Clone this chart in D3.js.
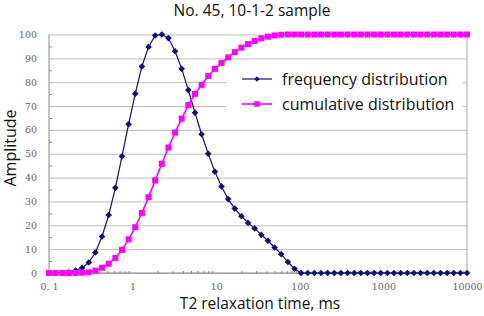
<!DOCTYPE html>
<html>
<head>
<meta charset="utf-8">
<script src="https://cdn.jsdelivr.net/npm/d3@7"></script>
<style>
  body { margin: 0; background: #fff; }
  svg { display: block; }
</style>
</head>
<body>
<div id="chart"></div>
<script>
// T2 relaxation times (ms), 64 points log-spaced 0.1 .. 10000
const t2Times = [
  0.1, 0.120, 0.144, 0.173, 0.208, 0.249, 0.299, 0.359, 0.431, 0.518,
  0.622, 0.746, 0.896, 1.076, 1.292, 1.551, 1.861, 2.235, 2.683, 3.221,
  3.866, 4.642, 5.572, 6.690, 8.031, 9.641, 11.57, 13.90, 16.68, 20.03,
  24.04, 28.86, 34.65, 41.60, 49.94, 59.95, 71.97, 86.40, 103.7, 124.5,
  149.5, 179.5, 215.4, 258.6, 310.5, 372.8, 447.5, 537.2, 645.0, 774.3,
  929.6, 1116, 1340, 1608, 1931, 2318, 2783, 3341, 4010, 4814,
  5780, 6939, 8330, 10000
];
const frequency = [
  0, 0, 0, 0.3, 1.0, 2.2, 4.4, 8.6, 15.3, 24.3,
  35.7, 48.9, 62.4, 75.2, 86.6, 94.8, 99.6, 100, 98.5, 93.0,
  85.6, 76.7, 67.2, 58.2, 50.0, 42.5, 36.3, 31.0, 27.0, 23.8,
  21.0, 18.7, 16.0, 13.5, 10.7, 7.9, 4.6, 1.8, 0, 0,
  0, 0, 0, 0, 0, 0, 0, 0, 0, 0,
  0, 0, 0, 0, 0, 0, 0, 0, 0, 0,
  0, 0, 0, 0
];
const cumulative = [
  0, 0, 0, 0, 0, 0.1, 0.3, 1.0, 2.2, 3.9,
  6.3, 9.7, 14.1, 19.2, 25.2, 31.8, 38.8, 45.8, 52.6, 58.9,
  64.7, 70.4, 75.1, 78.9, 82.6, 85.6, 88.1, 90.4, 92.6, 94.5,
  96.0, 97.3, 98.4, 99.1, 99.6, 99.9, 100, 100, 100, 100,
  100, 100, 100, 100, 100, 100, 100, 100, 100, 100,
  100, 100, 100, 100, 100, 100, 100, 100, 100, 100,
  100, 100, 100, 100
];
const xTicks = [0.1, 1, 10, 100, 1000, 10000];
const xTickLabels = ["0. 1", "1", "10", "100", "1000", "10000"];
const yTicks = [0, 10, 20, 30, 40, 50, 60, 70, 80, 90, 100];
const seriesNames = ["frequency distribution", "cumulative distribution"];
const chartTitle = "No. 45, 10-1-2 sample";
const xTitle = "T2 relaxation time, ms";
const yTitle = "Amplitude";

const width = 484, height = 316;
const margin = {top: 34.5, right: 17, bottom: 43, left: 49};
const blue = "#10107e", pink = "#ff00ff";

const svg = d3.select("#chart")
    .append("svg")
    .attr("width", width)
    .attr("height", height);

const x = d3.scaleLog()
    .domain([0.1, 10000])
    .range([margin.left, width - margin.right]);
const y = d3.scaleLinear()
    .domain([0, 100])
    .range([height - margin.bottom, margin.top]);

// gridlines
svg.append("g")
    .attr("transform", `translate(${margin.left},0)`)
    .call(d3.axisLeft(y).tickValues(yTicks).tickSize(-(width - margin.left - margin.right)).tickFormat(""))
    .call(g => g.select(".domain").remove())
    .call(g => g.selectAll("line").attr("stroke", "#bdbdbd").attr("stroke-width", 1));

// y minor ticks (inside)
svg.append("g")
    .attr("transform", `translate(${margin.left},0)`)
    .call(d3.axisRight(y).tickValues(d3.range(5, 100, 10)).tickSize(3).tickFormat(""))
    .call(g => g.select(".domain").remove())
    .call(g => g.selectAll("line").attr("stroke", "#888"));

// x minor ticks (inside, log)
const minor = [];
xTicks.slice(0, -1).forEach(d => { for (let k = 2; k < 10; k++) minor.push(d * k); });
svg.append("g")
    .attr("transform", `translate(0,${y(0)})`)
    .call(d3.axisTop(x).tickValues(minor).tickSize(2).tickFormat(""))
    .call(g => g.select(".domain").remove())
    .call(g => g.selectAll("line").attr("stroke", "#888"));

// axis frame lines
svg.append("line")
    .attr("x1", x(0.1)).attr("x2", x(10000))
    .attr("y1", y(0)).attr("y2", y(0))
    .attr("stroke", "#888");
svg.append("line")
    .attr("x1", x(0.1)).attr("x2", x(0.1))
    .attr("y1", y(0)).attr("y2", y(100))
    .attr("stroke", "#888");
svg.append("line")
    .attr("x1", x(10000)).attr("x2", x(10000))
    .attr("y1", y(0)).attr("y2", y(100))
    .attr("stroke", "#aaa");

// tick labels
svg.append("g")
    .attr("transform", `translate(${margin.left - 9},0)`)
    .call(d3.axisLeft(y).tickValues(yTicks).tickSize(0))
    .call(g => g.select(".domain").remove())
    .call(g => g.selectAll("text")
        .attr("fill", "#666")
        .attr("font-family", "'DejaVu Serif', serif")
        .attr("font-size", "9.5px"));

svg.append("g")
    .attr("transform", `translate(0,${y(0) + 7})`)
    .call(d3.axisBottom(x).tickValues(xTicks).tickSize(0).tickFormat((d, i) => xTickLabels[i]))
    .call(g => g.select(".domain").remove())
    .call(g => g.selectAll("text")
        .attr("fill", "#666")
        .attr("font-family", "'DejaVu Serif', serif")
        .attr("font-size", "9.5px"));

// legend box (drawn before the series so the lines sit above it)
svg.append("rect")
    .attr("x", 227).attr("y", 68)
    .attr("width", 236).attr("height", 50)
    .attr("fill", "#fff");

const pts = t2Times.map((t, i) => ({t: t, f: frequency[i], c: cumulative[i]}));

// frequency distribution
svg.append("path")
    .datum(pts)
    .attr("fill", "none")
    .attr("stroke", blue)
    .attr("stroke-width", 1.2)
    .attr("d", d3.line().x(d => x(d.t)).y(d => y(d.f)));
svg.selectAll(".freq")
    .data(pts)
    .enter()
    .append("path")
    .attr("class", "freq")
    .attr("transform", d => `translate(${x(d.t)},${y(d.f)}) rotate(45)`)
    .attr("d", d3.symbol(d3.symbolSquare, 22))
    .attr("fill", blue);

// cumulative distribution
svg.append("path")
    .datum(pts)
    .attr("fill", "none")
    .attr("stroke", pink)
    .attr("stroke-width", 1.6)
    .attr("d", d3.line().x(d => x(d.t)).y(d => y(d.c)));
svg.selectAll(".cum")
    .data(pts)
    .enter()
    .append("path")
    .attr("class", "cum")
    .attr("transform", d => `translate(${x(d.t)},${y(d.c)})`)
    .attr("d", d3.symbol(d3.symbolSquare, 36))
    .attr("fill", pink);

// legend entries
const legend = svg.selectAll(".legend")
    .data(seriesNames)
    .enter()
    .append("g")
    .attr("class", "legend")
    .attr("transform", (d, i) => `translate(242,${79 + i * 25})`);
legend.append("line")
    .attr("x1", 0).attr("x2", 30)
    .attr("stroke", (d, i) => i === 0 ? blue : pink)
    .attr("stroke-width", (d, i) => i === 0 ? 1.2 : 1.6);
legend.append("path")
    .attr("transform", (d, i) => i === 0 ? "translate(15,0) rotate(45)" : "translate(15,0)")
    .attr("d", (d, i) => d3.symbol(d3.symbolSquare, i === 0 ? 14 : 30)())
    .attr("fill", (d, i) => i === 0 ? blue : pink);
legend.append("text")
    .attr("x", 40)
    .attr("dy", "0.35em")
    .attr("font-family", "'Open Sans', sans-serif")
    .attr("font-size", "16px")
    .attr("fill", "#111")
    .text(d => d);

// titles
svg.append("text")
    .attr("x", 252)
    .attr("y", 16)
    .attr("text-anchor", "middle")
    .attr("font-family", "'Open Sans', sans-serif")
    .attr("font-size", "15.5px")
    .attr("fill", "#111")
    .text(chartTitle);

svg.append("text")
    .attr("x", 260)
    .attr("y", 309)
    .attr("text-anchor", "middle")
    .attr("font-family", "'Open Sans', sans-serif")
    .attr("font-size", "15.5px")
    .attr("fill", "#111")
    .text(xTitle);

svg.append("text")
    .attr("x", -148)
    .attr("y", 16)
    .attr("transform", "rotate(-90)")
    .attr("text-anchor", "middle")
    .attr("font-family", "'Open Sans', sans-serif")
    .attr("font-size", "16px")
    .attr("fill", "#111")
    .text(yTitle);
</script>
</body>
</html>
